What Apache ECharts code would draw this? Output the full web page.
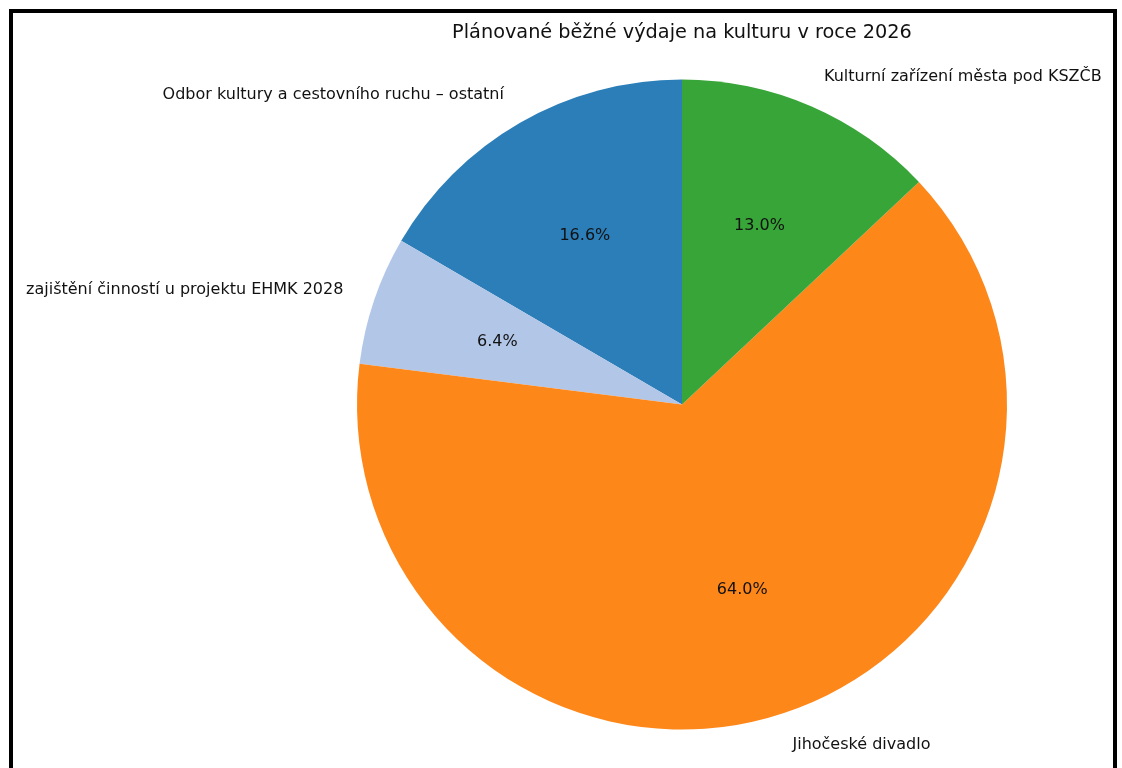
<!DOCTYPE html>
<html>
<head>
<meta charset="utf-8">
<script src="https://cdn.jsdelivr.net/npm/echarts@6/dist/echarts.min.js"></script>
<style>
  html, body { margin: 0; padding: 0; background: #fff; }
  #main { width: 1122px; height: 768px; }
</style>
</head>
<body>
<div id="main"></div>
<script>
  // data
  var categories = [
    'Odbor kultury a cestovního ruchu – ostatní',
    'zajištění činností u projektu EHMK 2028',
    'Jihočeské divadlo',
    'Kulturní zařízení města pod KSZČB'
  ];
  var values = [16.6, 6.4, 64.0, 13.0];
  var colors = ['#2b7eb8', '#b2c6e8', '#fe871a', '#37a537'];

  var chart = echarts.init(document.getElementById('main'));

  var R = 325;          // pie radius
  var center = [682, 404.5];
  var font = 'DejaVu Sans';

  var pieData = categories.map(function (name, i) {
    return { name: name, value: values[i], itemStyle: { color: colors[i] } };
  });
  var pctData = categories.map(function (name, i) {
    return { name: name, value: values[i] };
  });

  var option = {
    backgroundColor: '#fff',
    animation: false,
    title: {
      text: 'Plánované běžné výdaje na kulturu v roce 2026',
      left: 682,
      textAlign: 'center',
      top: 23,
      padding: 0,
      textStyle: { fontFamily: font, fontSize: 19.3, fontWeight: 'normal', color: '#111' }
    },
    graphic: [
      {
        type: 'rect',
        shape: { x: 11, y: 11, width: 1104, height: 800 },
        style: { fill: 'none', stroke: '#000', lineWidth: 4 },
        silent: true
      }
    ],
    series: [
      {
        type: 'pie',
        center: center,
        radius: [0, R],
        startAngle: 90,
        clockwise: false,
        silent: true,
        avoidLabelOverlap: false,
        z: 2,
        itemStyle: { borderWidth: 0 },
        label: {
          show: true,
          position: 'outside',
          fontFamily: font,
          fontSize: 16,
          color: '#111',
          distanceToLabelLine: 0,
          formatter: '{b}'
        },
        labelLine: { show: false, length: R * 0.1, length2: 0 },
        emphasis: { disabled: true },
        data: pieData
      },
      {
        // invisible disc only for percentage labels (inside -> 0.6 R)
        type: 'pie',
        center: center,
        radius: [0, R * 1.2 - 6],
        startAngle: 90,
        clockwise: false,
        silent: true,
        avoidLabelOverlap: false,
        z: 5,
        itemStyle: { color: 'rgba(0,0,0,0)', borderWidth: 0 },
        label: {
          show: true,
          position: 'inside',
          fontFamily: font,
          fontSize: 16,
          color: '#111',
          formatter: function (p) { return p.percent.toFixed(1) + '%'; }
        },
        labelLine: { show: false },
        emphasis: { disabled: true },
        data: pctData
      }
    ]
  };

  chart.setOption(option);
</script>
</body>
</html>
